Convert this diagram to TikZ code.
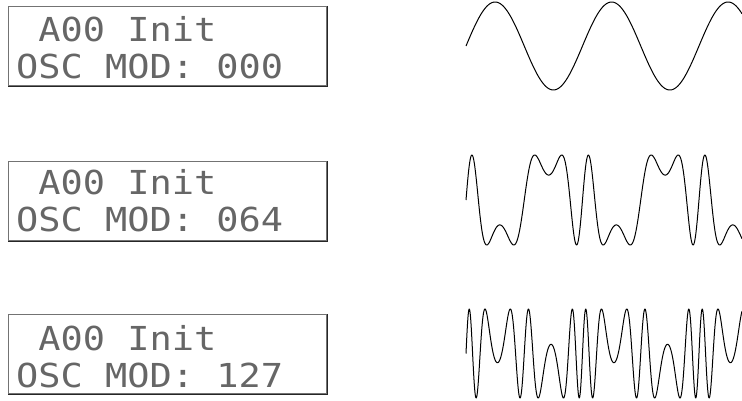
\documentclass[tikz,border=0pt]{standalone}
\usepackage{fontspec}
\newfontfamily\lcdfont[FakeStretch=1.12,WordSpace={1,0,0}]{DejaVu Sans Mono}
\usepackage{tikz}
\usetikzlibrary{calc}

\tikzset{
    lcd/.style={draw=black!55, line width=1.2pt, minimum width=318pt,
        minimum height=79pt, inner sep=0pt, anchor=north west},
    lcdedge/.style={draw=black!85, line width=1.2pt},
    lcdtext/.style={font=\lcdfont\fontsize{33}{33}\selectfont, text=black!60,
        anchor=base west, inner sep=0pt},
    wave/.style={line width=1pt, black, line join=round}
}

\begin{document}
\begin{tikzpicture}[x=1pt, y=1pt]
        % Fix the page size
        \useasboundingbox (0,0) rectangle (742,400);

        % Display with modulation 000
        \node[lcd] (lcda) at (8,394) {};
        \draw[lcdedge] (lcda.north east) -- (lcda.south east) -- (lcda.south west);
        \node[lcdtext] (namea) at ($(lcda.north west)+(8,-35)$) {\phantom{A}A00 Init};
        \node[lcdtext] (moda) at ($(lcda.north west)+(8,-73)$) {OSC MOD: 000};

        % Display with modulation 064
        \node[lcd] (lcdb) at (8,239) {};
        \draw[lcdedge] (lcdb.north east) -- (lcdb.south east) -- (lcdb.south west);
        \node[lcdtext] (nameb) at ($(lcdb.north west)+(8,-33)$) {\phantom{A}A00 Init};
        \node[lcdtext] (modb) at ($(lcdb.north west)+(8,-70)$) {OSC MOD: 064};

        % Display with modulation 127
        \node[lcd] (lcdc) at (8,86) {};
        \draw[lcdedge] (lcdc.north east) -- (lcdc.south east) -- (lcdc.south west);
        \node[lcdtext] (namec) at ($(lcdc.north west)+(8,-36)$) {\phantom{A}A00 Init};
        \node[lcdtext] (modc) at ($(lcdc.north west)+(8,-73)$) {OSC MOD: 127};

        % Waveforms, index 0, 4 and 8
        \draw[wave] plot[domain=0:14.89, samples=300]
            ({466+18.54*\x}, {354+44*sin(\x r)});
        \draw[wave] plot[domain=0:14.89, samples=500]
            ({466+18.54*\x}, {200+45*sin((\x+4*sin(\x r)) r)});
        \draw[wave] plot[domain=0:14.89, samples=700]
            ({466+18.54*\x}, {46.5+44.5*sin((\x+8*sin(\x r)) r)});
\end{tikzpicture}
\end{document}
